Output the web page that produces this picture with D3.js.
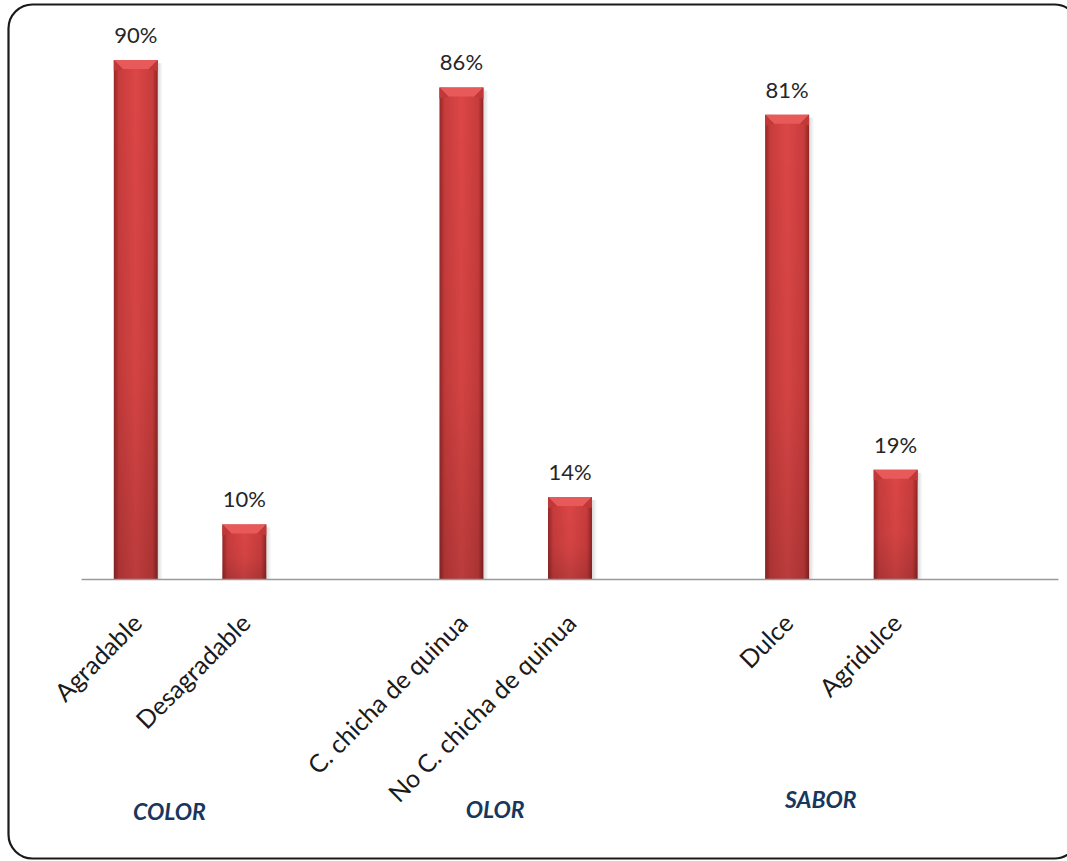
<!DOCTYPE html>
<html>
<head>
<meta charset="utf-8">
<script src="https://cdn.jsdelivr.net/npm/d3@7"></script>
<style>
  html, body { margin: 0; padding: 0; background: #fff; }
  svg { display: block; }
</style>
</head>
<body>
<div id="chart"></div>
<script>
// ---- data ----
const groups = ["COLOR", "OLOR", "SABOR"];
const categories = ["Agradable", "Desagradable", "C. chicha de quinua", "No C. chicha de quinua", "Dulce", "Agridulce"];
const categoryGroup = ["COLOR", "COLOR", "OLOR", "OLOR", "SABOR", "SABOR"];
const values = [90.48, 9.52, 85.71, 14.29, 80.95, 19.05];
const valueLabels = ["90%", "10%", "86%", "14%", "81%", "19%"];

// ---- layout ----
const W = 1067, H = 861;
const plot = { left: 81.5, right: 1058.5, top: 5.5, bottom: 579 };
const groupLabelY = [820, 818, 808];

const svg = d3.select("#chart").append("svg").attr("width", W).attr("height", H);

const defs = svg.append("defs");
const gh = defs.append("linearGradient").attr("id", "barH").attr("x1", 0).attr("x2", 1).attr("y1", 0).attr("y2", 0);
[[0, "#952727"], [0.12, "#c83c3c"], [0.5, "#dc4646"], [0.88, "#c83c3c"], [1, "#902424"]]
  .forEach(([o, c]) => gh.append("stop").attr("offset", o).attr("stop-color", c));
const gv = defs.append("linearGradient").attr("id", "barV").attr("x1", 0).attr("x2", 0).attr("y1", 0).attr("y2", 1);
[[0, "#000", 0], [0.6, "#000", 0.04], [1, "#000", 0.15]]
  .forEach(([o, c, a]) => gv.append("stop").attr("offset", o).attr("stop-color", c).attr("stop-opacity", a));
const gs = defs.append("linearGradient").attr("id", "shadow").attr("x1", 0).attr("x2", 1);
[[0, "#000", 0.15], [1, "#000", 0]]
  .forEach(([o, c, a]) => gs.append("stop").attr("offset", o).attr("stop-color", c).attr("stop-opacity", a));

// scales
const xGroup = d3.scaleBand().domain(groups).range([plot.left, plot.right]).padding(0);
const xSlot = d3.scalePoint().domain([0, 1, 2]).range([0, xGroup.bandwidth()]).padding(0.5);
const step = xSlot.step();
const barW = step * 0.405;
const y = d3.scaleLinear().domain([0, 100]).range([plot.bottom, plot.top]);

const data = categories.map((c, i) => {
  const g = categoryGroup[i];
  const idx = categories.filter((cc, j) => j < i && categoryGroup[j] === g).length;
  return { cat: c, group: g, value: values[i], label: valueLabels[i], cx: xGroup(g) + xSlot(idx) };
});

// bars
const bars = svg.append("g").selectAll("g").data(data).join("g");
bars.append("rect")
  .attr("x", d => d.cx + barW / 2)
  .attr("y", d => y(d.value) + 3)
  .attr("width", 5)
  .attr("height", d => plot.bottom - y(d.value) - 3)
  .attr("fill", "url(#shadow)");
bars.append("rect")
  .attr("x", d => d.cx - barW / 2)
  .attr("y", d => y(d.value))
  .attr("width", barW)
  .attr("height", d => plot.bottom - y(d.value))
  .attr("fill", "url(#barH)");
bars.append("rect")
  .attr("x", d => d.cx - barW / 2)
  .attr("y", d => y(d.value))
  .attr("width", barW)
  .attr("height", d => plot.bottom - y(d.value))
  .attr("fill", "url(#barV)");
// top bevel
bars.append("path")
  .attr("d", d => {
    const x0 = d.cx - barW / 2, x1 = d.cx + barW / 2, t = y(d.value), b = 9;
    return `M${x0},${t}L${x1},${t}L${x1 - b},${t + b}L${x0 + b},${t + b}Z`;
  })
  .attr("fill", "#e85a5a");
bars.append("path")
  .attr("d", d => {
    const x0 = d.cx - barW / 2, x1 = d.cx + barW / 2, t = y(d.value), b = 9;
    return `M${x0},${t}L${x0 + b},${t + b}L${x0},${t + b + 2}Z M${x1},${t}L${x1 - b},${t + b}L${x1},${t + b + 2}Z`;
  })
  .attr("fill", "#c03838");

// value labels
svg.append("g").selectAll("text").data(data).join("text")
  .attr("x", d => d.cx)
  .attr("y", d => y(d.value) - 17)
  .attr("text-anchor", "middle")
  .attr("font-family", "Lato, 'Open Sans', sans-serif")
  .attr("font-size", 22)
  .attr("fill", "#262626")
  .text(d => d.label);

// axis
svg.append("line")
  .attr("x1", plot.left).attr("x2", plot.right)
  .attr("y1", plot.bottom + 0.5).attr("y2", plot.bottom + 0.5)
  .attr("stroke", "#9a9a9a").attr("stroke-width", 1.5);

// category labels
svg.append("g").selectAll("text").data(data).join("text")
  .attr("transform", d => `translate(${d.cx + 8},${plot.bottom + 46}) rotate(-45)`)
  .attr("text-anchor", "end")
  .attr("font-family", "Lato, 'Open Sans', sans-serif")
  .attr("font-size", 25)
  .attr("fill", "#1a1a1a")
  .text(d => d.cat);

// group labels
svg.append("g").selectAll("text").data(groups).join("text")
  .attr("x", g => xGroup(g) + xGroup.bandwidth() * 0.27)
  .attr("y", (g, i) => groupLabelY[i])
  .attr("text-anchor", "middle")
  .attr("font-family", "Lato, 'Open Sans', sans-serif")
  .attr("font-size", 23)
  .attr("font-weight", "bold")
  .attr("font-style", "italic")
  .attr("fill", "#17375e")
  .text(g => g);

// border
svg.append("rect")
  .attr("x", 8.5).attr("y", 4.5)
  .attr("width", 1070).attr("height", 854)
  .attr("rx", 24).attr("ry", 24)
  .attr("fill", "none")
  .attr("stroke", "#1a1a1a").attr("stroke-width", 2.2);
</script>
</body>
</html>
